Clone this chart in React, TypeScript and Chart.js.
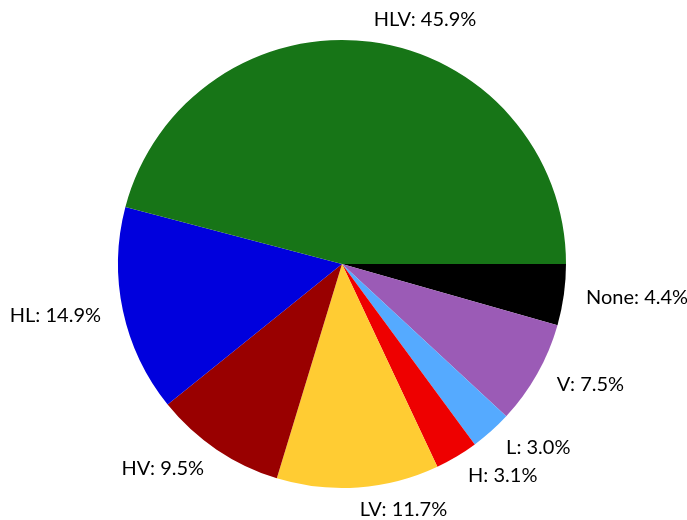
import React, { useEffect, useRef } from "react";
import { Chart, registerables } from "chart.js";

Chart.register(...registerables);

// Matplotlib order (counter-clockwise from east)
const categories = ["HLV", "HL", "HV", "LV", "H", "L", "V", "None"];
const shares = [45.9, 14.9, 9.5, 11.7, 3.1, 3.0, 7.5, 4.4];
const colors = ["#177517", "#0000DD", "#990000", "#FFCC33", "#EE0000", "#55AAFF", "#9B5BB6", "#000000"];

// Chart.js draws clockwise, so reverse to match counter-clockwise layout
const revLabels = [...categories].reverse();
const revValues = [...shares].reverse();
const revColors = [...colors].reverse();

const FONT = "20px Lato, 'DejaVu Sans', sans-serif";

const outsideLabels = {
  id: "outsideLabels",
  afterDraw(chart: any) {
    const ctx = chart.ctx;
    const meta = chart.getDatasetMeta(0);
    ctx.save();
    ctx.font = FONT;
    ctx.fillStyle = "#000";
    ctx.textBaseline = "middle";
    meta.data.forEach((arc: any, i: number) => {
      const mid = (arc.startAngle + arc.endAngle) / 2;
      const r = arc.outerRadius * 1.1;
      const x = arc.x + Math.cos(mid) * r;
      const y = arc.y + Math.sin(mid) * r;
      ctx.textAlign = Math.cos(mid) > 0 ? "left" : "right";
      const text = `${revLabels[i]}: ${revValues[i].toFixed(1)}%`;
      ctx.fillText(text, x, y);
    });
    ctx.restore();
  },
};

export default function App() {
  const ref = useRef<HTMLCanvasElement | null>(null);
  useEffect(() => {
    if (!ref.current) return;
    const chart = new Chart(ref.current, {
      type: "pie",
      data: {
        labels: revLabels,
        datasets: [
          {
            data: revValues,
            backgroundColor: revColors,
            borderWidth: 0,
          },
        ],
      },
      options: {
        animation: false,
        responsive: false,
        rotation: 90,
        layout: { padding: { left: 118, right: 121, top: 40, bottom: 32 } },
        plugins: {
          legend: { display: false },
          tooltip: { enabled: false },
        },
      },
      plugins: [outsideLabels],
    });
    return () => chart.destroy();
  }, []);
  return (
    <div style={{ position: "fixed", left: 0, top: 0, width: 687, height: 520, background: "#fff" }}>
      <canvas ref={ref} width={687} height={520} />
    </div>
  );
}
